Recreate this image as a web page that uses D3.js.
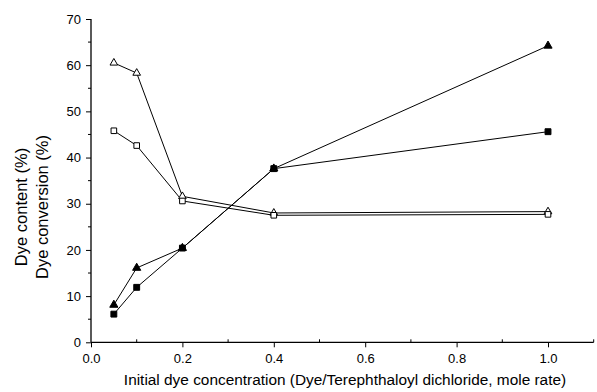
<!DOCTYPE html>
<html>
<head>
<meta charset="utf-8">
<script src="https://cdn.jsdelivr.net/npm/d3@7"></script>
<style>
  body { margin: 0; background: #fff; }
  text { font-family: "Liberation Sans", Arial, sans-serif; fill: #000; }
</style>
</head>
<body>
<div id="chart"></div>
<script>
// data
const conc = [0.05, 0.1, 0.2, 0.4, 1.0]
const conversionTri = [60.5, 58.3, 31.6, 28.0, 28.3]   // open triangles
const conversionSq = [45.8, 42.6, 30.6, 27.5, 27.7]    // open squares
const contentTri = [8.1, 16.1, 20.4, 37.6, 64.2]       // filled triangles
const contentSq = [6.1, 11.9, 20.4, 37.6, 45.6]        // filled squares
const xTicks = [0, 0.2, 0.4, 0.6, 0.8, 1.0]
const yTicks = [0, 10, 20, 30, 40, 50, 60, 70]

const series = [
  { values: conversionTri, shape: 'tri', filled: false },
  { values: conversionSq, shape: 'sq', filled: false },
  { values: contentTri, shape: 'tri', filled: true },
  { values: contentSq, shape: 'sq', filled: true },
]

const W = 597, H = 392
const margin = { top: 19, right: 2, bottom: 50, left: 91 }

const svg = d3.select('#chart').append('svg')
  .attr('width', W)
  .attr('height', H)

const x = d3.scaleLinear()
  .domain([0, 1.1])
  .range([margin.left, margin.left + 457 * 1.1])

const y = d3.scaleLinear()
  .domain([0, 70])
  .range([H - margin.bottom + 0.3, margin.top])

const y0 = y(0)

/* axes */
const xAxis = svg.append('g')
  .attr('transform', `translate(0, ${y0})`)
  .call(d3.axisBottom(x).tickValues(xTicks).tickFormat(d3.format('.1f')).tickSize(5).tickPadding(6))
xAxis.select('.domain').attr('d', `M${x(0)},0H${x(1.1)}`).attr('stroke-width', 1.3)
xAxis.selectAll('text').attr('font-size', 13)

// minor x ticks
svg.append('g').selectAll('line')
  .data([0.1, 0.3, 0.5, 0.7, 0.9, 1.1])
  .join('line')
  .attr('x1', d => x(d)).attr('x2', d => x(d))
  .attr('y1', y0 - 3).attr('y2', y0)
  .attr('stroke', '#000')

const yAxis = svg.append('g')
  .attr('transform', `translate(${x(0)}, 0)`)
  .call(d3.axisLeft(y).tickValues(yTicks).tickSize(5).tickPadding(5))
yAxis.select('.domain').attr('d', `M0,${y0}V${y(70)}`).attr('stroke-width', 1.3)
yAxis.selectAll('text').attr('font-size', 13)

// minor y ticks
svg.append('g').selectAll('line')
  .data([5, 15, 25, 35, 45, 55, 65])
  .join('line')
  .attr('x1', x(0) - 3).attr('x2', x(0))
  .attr('y1', d => y(d)).attr('y2', d => y(d))
  .attr('stroke', '#000')

/* axis titles */
svg.append('text')
  .attr('x', 345)
  .attr('y', 385)
  .attr('text-anchor', 'middle')
  .attr('font-size', 15.4)
  .text('Initial dye concentration (Dye/Terephthaloyl dichloride, mole rate)')

const yTitle = svg.append('text')
  .attr('transform', 'translate(27, 207) rotate(-90)')
  .attr('text-anchor', 'middle')
  .attr('font-size', 16.5)
yTitle.append('tspan').attr('x', 0).attr('dy', 0).text('Dye content (%)')
yTitle.append('tspan').attr('x', 0).attr('dy', 21).text('Dye conversion (%)')

/* lines + markers */
const line = d3.line()
  .x((d, i) => x(conc[i]))
  .y(d => y(d))

const $plot = svg.append('g')

series.forEach(s => {
  $plot.append('path')
    .attr('d', line(s.values))
    .attr('fill', 'none')
    .attr('stroke', '#000')
    .attr('stroke-width', 1)
})

series.forEach(s => {
  const sym = s.shape === 'tri'
    ? d3.symbol(d3.symbolTriangle2, s.filled ? 48 : 42)
    : d3.symbol(d3.symbolSquare2, s.filled ? 44 : 40)
  $plot.append('g').selectAll('path')
    .data(s.values)
    .join('path')
    .attr('transform', (d, i) => `translate(${x(conc[i])}, ${y(d)})`)
    .attr('d', sym)
    .attr('fill', s.filled ? '#000' : '#fff')
    .attr('stroke', '#000')
    .attr('stroke-width', 1)
})
</script>
</body>
</html>
